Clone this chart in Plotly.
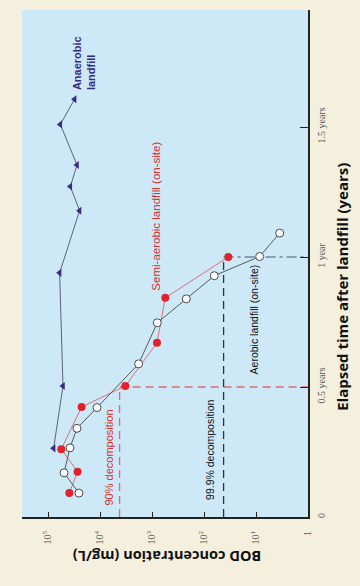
import plotly.graph_objects as go

# Elapsed time (years) and BOD concentration (mg/L)
anaerobic_t = [0.264, 0.504, 0.939, 1.178, 1.271, 1.354, 1.510, 1.607]
anaerobic_bod = [78000, 51500, 59800, 24700, 37200, 27700, 57900, 30800]

semi_t = [0.092, 0.174, 0.261, 0.423, 0.504, 0.670, 0.843, 1.000]
semi_bod = [38900, 27000, 55500, 22600, 3260, 802, 555, 34.1]

aerobic_t = [0.092, 0.170, 0.266, 0.341, 0.421, 0.589, 0.747, 0.839, 0.928, 1.002, 1.092]
aerobic_bod = [25400, 49200, 37800, 27700, 11400, 1810, 791, 219, 63.4, 8.5, 3.5]

# Decomposition reference levels
ref90_bod, ref90_t = 4200, 0.5
ref999_bod, ref999_t = 42, 1.0

bod_ticks = [1, 10, 100, 1000, 10000, 100000]
bod_ticktext = ["1", "10<sup>1</sup>", "10<sup>2</sup>", "10<sup>3</sup>", "10<sup>4</sup>", "10<sup>5</sup>"]
time_ticks = [0, 0.5, 1, 1.5]
time_ticktext = ["0", "0.5 years", "1 year", "1.5 years"]

fig = go.Figure()

# reference lines
fig.add_trace(go.Scatter(x=[ref90_bod, ref90_bod, 1], y=[0, ref90_t, ref90_t], mode="lines",
                         line=dict(color="#de6b6e", width=1.3, dash="8px,5px"), hoverinfo="skip"))
fig.add_trace(go.Scatter(x=[ref999_bod, ref999_bod], y=[0, ref999_t], mode="lines",
                         line=dict(color="#333333", width=1.3, dash="8px,5px"), hoverinfo="skip"))
fig.add_trace(go.Scatter(x=[ref999_bod, 1], y=[ref999_t, ref999_t], mode="lines",
                         line=dict(color="#445566", width=1.2, dash="10px,4px,3px,4px"), hoverinfo="skip"))

fig.add_trace(go.Scatter(x=semi_bod, y=semi_t, mode="lines+markers",
                         line=dict(color="#d9707a", width=1),
                         marker=dict(symbol="circle", size=8, color="#e0232b", line=dict(width=0))))
fig.add_trace(go.Scatter(x=aerobic_bod, y=aerobic_t, mode="lines+markers",
                         line=dict(color="#555a5e", width=1),
                         marker=dict(symbol="circle", size=8, color="white", line=dict(width=1, color="#4a4a4a"))))
fig.add_trace(go.Scatter(x=anaerobic_bod, y=anaerobic_t, mode="lines+markers",
                         line=dict(color="#5f6080", width=1),
                         marker=dict(symbol="triangle-left", size=7, color="#3a2a86")))

lab = "Liberation Sans Narrow, Liberation Sans, Arial"
annotations = [
    dict(x=4.321, y=1.747, text="<b>Anaerobic<br>landfill</b>", textangle=-90, align="left",
         font=dict(family=lab, size=11, color="#3a2a86")),
    dict(x=2.917, y=1.1565, text="Semi-aerobic landfill (on-site)", textangle=-90,
         font=dict(family=lab, size=11.5, color="#d8302a")),
    dict(x=1.033, y=0.761, text="Aerobic landfill (on-site)", textangle=-90,
         font=dict(family=lab, size=10.5, color="#111111")),
    dict(x=3.831, y=0.228, text="90% decomposition", textangle=-90,
         font=dict(family=lab, size=11, color="#d8302a")),
    dict(x=1.898, y=0.259, text="99.9% decomposition", textangle=-90,
         font=dict(family=lab, size=10.5, color="#111111")),
]
for a in annotations:
    a.update(xref="x", yref="y", showarrow=False)

annotations.append(dict(xref="paper", yref="paper", x=1.16, y=0.4536, showarrow=False,
                        text="<b>Elapsed time after landfill (years)</b>", textangle=-90,
                        font=dict(family="Open Sans, Noto Sans", size=15, color="#111111")))
annotations.append(dict(xref="paper", yref="paper", x=0.5075, y=-0.1006, showarrow=False,
                        text="<b>BOD concentration (mg/L)</b>", textangle=180,
                        font=dict(family="Open Sans, Noto Sans", size=14.5, color="#111111")))

fig.update_layout(
    width=360, height=586,
    margin=dict(l=22, r=52, t=10, b=69),
    paper_bgcolor="#f5f0de", plot_bgcolor="#cde8f6",
    showlegend=False,
    annotations=annotations,
    xaxis=dict(type="log", range=[5.5, 0], tickvals=bod_ticks, ticktext=bod_ticktext,
               tickangle=-90, ticks="inside", ticklen=5, tickwidth=1, tickcolor="#222",
               ticklabelstandoff=8,
               showline=True, linecolor="#222", linewidth=2, showgrid=False, zeroline=False,
               tickfont=dict(family="Liberation Serif", size=10, color="#555")),
    yaxis=dict(range=[0, 1.95], side="right", tickvals=time_ticks, ticktext=time_ticktext,
               tickangle=-90, ticks="inside", ticklen=8, tickwidth=1, tickcolor="#222",
               ticklabelstandoff=3,
               showline=True, linecolor="#222", linewidth=2, showgrid=False, zeroline=False,
               tickfont=dict(family="Liberation Serif", size=10, color="#555")),
)

fig.write_html("out.html")
